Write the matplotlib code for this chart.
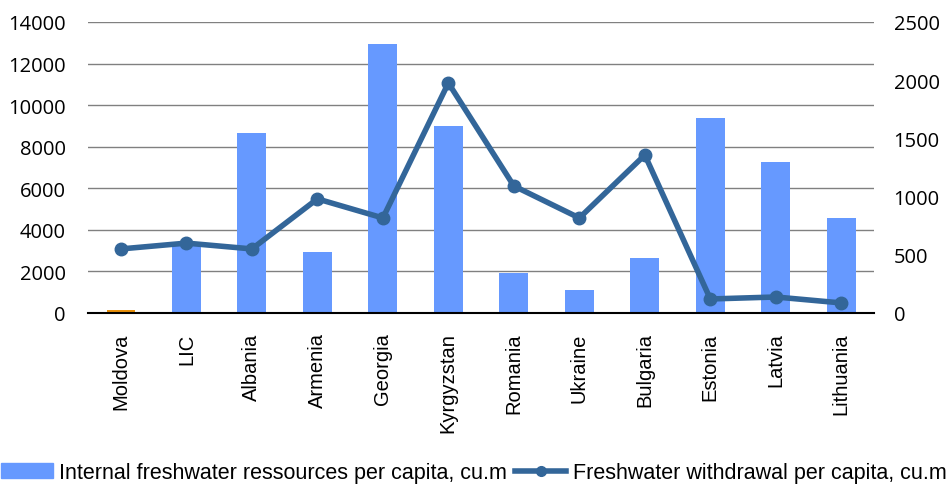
import matplotlib
matplotlib.use('Agg')
import matplotlib.pyplot as plt
from matplotlib.patches import Patch
from matplotlib.lines import Line2D
import numpy as np

countries = ['Moldova', 'LIC', 'Albania', 'Armenia', 'Georgia', 'Kyrgyzstan',
             'Romania', 'Ukraine', 'Bulgaria', 'Estonia', 'Latvia', 'Lithuania']
resources = [150, 3200, 8650, 2950, 12950, 9000, 1900, 1100, 2650, 9400, 7250, 4570]
withdrawal = [550, 600, 550, 980, 816, 1976, 1091, 816, 1357, 120, 137, 86]

bar_color = '#6699FF'
moldova_color = '#E8900A'
line_color = '#336699'

fig = plt.figure(figsize=(9.48, 4.89), dpi=100)
ax = fig.add_axes([0.093, 0.358, 0.829, 0.595])
x = np.arange(len(countries))
colors = [moldova_color] + [bar_color] * (len(countries) - 1)
ax.bar(x, resources, width=0.44, color=colors, zorder=2)
ax.set_xlim(-0.5, len(countries) - 0.5)
ax.set_ylim(0, 14000)
ax.set_yticks(range(0, 14001, 2000))
ax.yaxis.grid(True, color='#808080', linewidth=1)
ax.set_axisbelow(True)
for s in ['top', 'right', 'left']:
    ax.spines[s].set_visible(False)
ax.spines['bottom'].set_color('black')
ax.spines['bottom'].set_linewidth(1.5)
ax.tick_params(axis='y', length=0, pad=16, labelsize=14.5)
ax.tick_params(axis='x', length=0, pad=14)
ax.set_xticks(x)
ax.set_xticklabels(countries, rotation=90, fontsize=14.5, family='Liberation Sans')
for lab in ax.get_yticklabels():
    lab.set_family('Open Sans')

ax2 = ax.twinx()
ax2.plot(x, withdrawal, color=line_color, linewidth=4, marker='o', markersize=9, zorder=3)
ax2.set_ylim(0, 2500)
ax2.set_yticks(range(0, 2501, 500))
for s in ['top', 'right', 'left', 'bottom']:
    ax2.spines[s].set_visible(False)
ax2.tick_params(axis='y', length=0, pad=14, labelsize=14.5)
for lab in ax2.get_yticklabels():
    lab.set_family('Open Sans')

handles = [Patch(color=bar_color),
           Line2D([0], [0], color=line_color, linewidth=4, marker='o', markersize=7)]
labels = ['Internal freshwater ressources per capita, cu.m',
          'Freshwater withdrawal per capita, cu.m']
fig.legend(handles, labels, loc='lower center', bbox_to_anchor=(0.5, -0.03), ncol=2,
           frameon=False, prop={'family': 'Liberation Sans', 'size': 15.5},
           handlelength=2.4, handletextpad=0.3, columnspacing=0.35)

fig.savefig('out.png', dpi=100)
